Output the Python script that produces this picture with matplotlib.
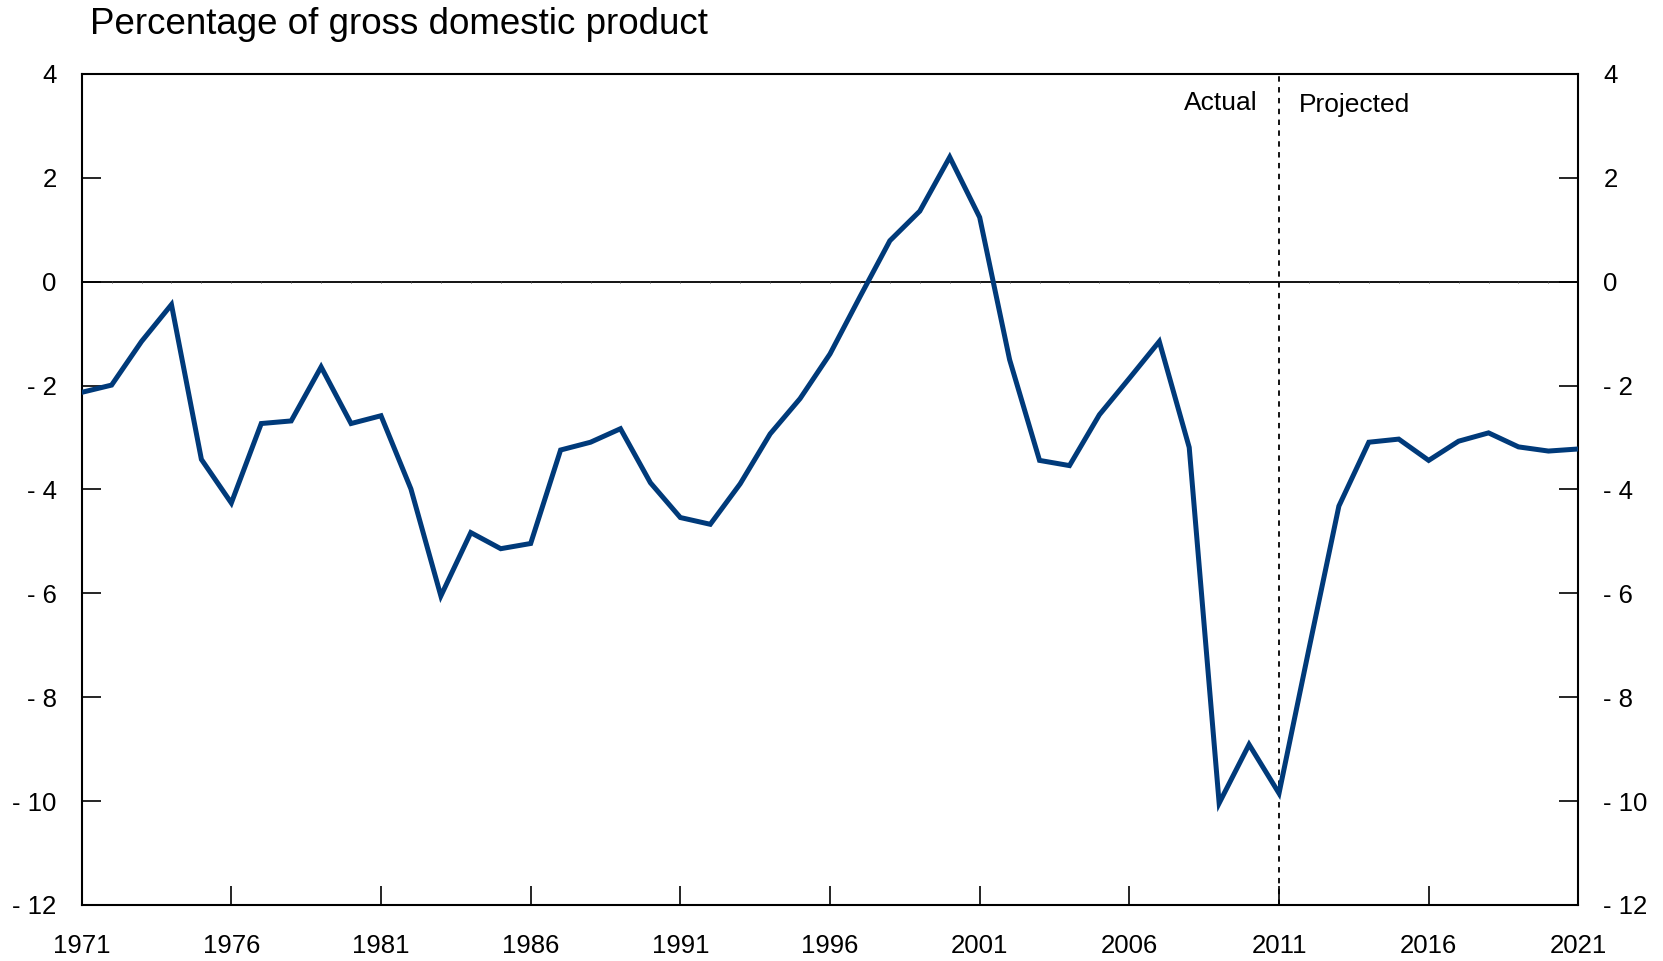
import matplotlib
matplotlib.use("Agg")
import matplotlib.pyplot as plt

plt.rcParams['font.family'] = ['Liberation Sans', 'DejaVu Sans']

years = list(range(1971, 2022))
deficit = [-2.13, -1.99, -1.15, -0.44, -3.42, -4.26, -2.73, -2.68, -1.64, -2.73,
           -2.58, -3.99, -6.05, -4.83, -5.14, -5.04, -3.24, -3.09, -2.83, -3.87,
           -4.54, -4.67, -3.89, -2.93, -2.25, -1.39, -0.29, 0.79, 1.36, 2.40,
           1.24, -1.50, -3.44, -3.54, -2.56, -1.86, -1.15, -3.19, -10.04, -8.91,
           -9.85, -7.07, -4.32, -3.09, -3.03, -3.44, -3.07, -2.91, -3.18, -3.26,
           -3.22]
xticks = [1971, 1976, 1981, 1986, 1991, 1996, 2001, 2006, 2011, 2016, 2021]
yticks = [4, 2, 0, -2, -4, -6, -8, -10, -12]
ytick_labels = ['4', '2', '0', '- 2', '- 4', '- 6', '- 8', '- 10', '- 12']
split_year = 2011
title = 'Percentage of gross domestic product'

fig = plt.figure(figsize=(16.63, 9.61), dpi=100)
ax = fig.add_axes([0.0491, 0.0583, 0.9000, 0.8647])

ax.plot(years, deficit, color='#003A7A', linewidth=3.6, solid_joinstyle='miter', zorder=4)
ax.axhline(0, color='black', linewidth=1.3, zorder=2)
ax.plot(years, [0] * len(years), linestyle='none', marker='|', markersize=1.8,
        color='#444444', markeredgewidth=0.6, zorder=2)
ax.axvline(split_year, color='black', linewidth=1.3, linestyle=(0, (3, 3)), zorder=3)

ax.set_xlim(years[0], years[-1])
ax.set_ylim(-12, 4)
ax.set_xticks(xticks)
ax.set_xticklabels([str(y) for y in xticks], fontsize=18.5)
ax.set_yticks(yticks)
ax.set_yticklabels(ytick_labels, fontsize=18.5)
ax.tick_params(axis='x', direction='in', length=14, width=1.2, pad=21)
ax.tick_params(axis='y', direction='in', length=14, width=1.2, pad=18,
               left=True, right=True, labelleft=True, labelright=True)
for s in ax.spines.values():
    s.set_linewidth(1.5)

ax.text(split_year - 0.7, 3.45, 'Actual', ha='right', va='center', fontsize=19)
ax.text(split_year + 0.65, 3.4, 'Projected', ha='left', va='center', fontsize=19)

fig.text(0.054, 0.974, title, ha='left', va='center', fontsize=26.5)

fig.savefig('out.png', dpi=100)
